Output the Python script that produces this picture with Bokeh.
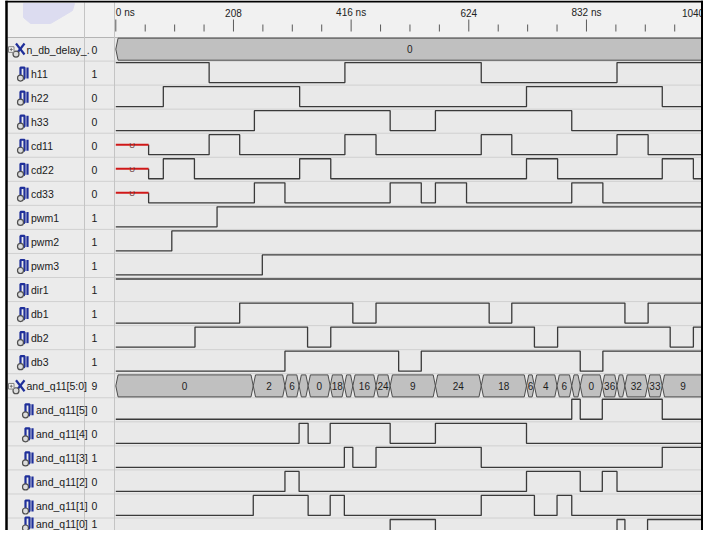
from bokeh.plotting import figure
from bokeh.models import Range1d
from bokeh.embed import file_html
from bokeh.resources import INLINE
from bokeh.core.properties import value

# ---------------- data ----------------
time_ticks = [0, 208, 416, 624, 832, 1040]
time_tick_labels = ["0 ns", "208", "416 ns", "624", "832 ns", "1040"]
minor_tick_step = 52
view_end = 1039

row_names = ["n_db_delay_.", "h11", "h22", "h33", "cd11", "cd22", "cd33",
             "pwm1", "pwm2", "pwm3", "dir1", "db1", "db2", "db3",
             "and_q11[5:0]", "and_q11[5]", "and_q11[4]", "and_q11[3]",
             "and_q11[2]", "and_q11[1]", "and_q11[0]"]
row_kinds = ["bus", "sig", "sig", "sig", "sig", "sig", "sig",
             "sig", "sig", "sig", "sig", "sig", "sig", "sig",
             "bus", "bit", "bit", "bit", "bit", "bit", "bit"]
row_values = ["0", "1", "0", "0", "0", "0", "0", "1", "1", "1", "1", "1", "1", "1",
              "9", "0", "0", "1", "0", "0", "1"]

# binary signals: initial level and toggle times (ns)
h11_init, h11_edges = 1, [165, 405, 646, 886]
h22_init, h22_edges = 0, [84, 325, 726, 966]
h33_init, h33_edges = 0, [245, 485, 565, 806]
undefined_until = 58
cd11_init, cd11_edges = 0, [165, 219, 405, 460, 646, 700, 886, 941]
cd22_init, cd22_edges = 0, [84, 139, 325, 380, 726, 781, 966, 1021]
cd33_init, cd33_edges = 0, [245, 299, 485, 540, 565, 620, 806, 861]
pwm1_init, pwm1_edges = 0, [179]
pwm2_init, pwm2_edges = 0, [99]
pwm3_init, pwm3_edges = 0, [259]
dir1_init, dir1_edges = 1, []
db1_init, db1_edges = 0, [219, 419, 460, 660, 700, 900, 941]
db2_init, db2_edges = 0, [140, 339, 380, 740, 781, 980, 1021]
db3_init, db3_edges = 0, [299, 500, 540, 821, 861]
q5_init, q5_edges = 0, [806, 821, 860, 966]
q4_init, q4_edges = 0, [324, 340, 379, 485, 565, 726]
q3_init, q3_edges = 0, [404, 419, 460, 646, 966]
q2_init, q2_edges = 0, [299, 324, 726, 821, 860, 886]
q1_init, q1_edges = 0, [243, 340, 379, 404, 646, 740, 780, 806]
q0_init, q0_edges = 0, [485, 565, 886, 900, 940]

# buses: segment start times and values
delay_times = [0]
delay_values = ["0"]
andq_times = [0, 243, 299, 324, 340, 379, 404, 419, 460, 485, 565, 646, 726, 740,
              780, 806, 821, 860, 886, 900, 940, 966]
andq_values = ["0", "2", "6", "18", "0", "18", "24", "16", "24", "9", "24", "18", "6", "4",
               "6", "36", "0", "36", "33", "32", "33", "9"]

# ---------------- layout ----------------
W, H = 703, 530
ROW_H = 24.05
T0_PX = 123.3            # window x of 0 ns
S = 0.5657               # px per ns
X_LEFT, X_RIGHT = 8, 8 + W
HDR_BOTTOM = 45


def ry(sy):
    return (sy - HDR_BOTTOM) / ROW_H


p = figure(width=W, height=H, output_backend="svg", toolbar_location=None,
           x_range=Range1d((X_LEFT - T0_PX) / S, (X_RIGHT - T0_PX) / S),
           y_range=Range1d(ry(8 + H), ry(8)),
           x_axis_location=None, y_axis_location=None, min_border=0)
p.extra_x_ranges = {"px": Range1d(X_LEFT, X_RIGHT)}
p.grid.visible = False
p.outline_line_color = None
p.background_fill_color = "white"
p.border_fill_color = "white"

FONT = value("Liberation Sans")
n_rows = len(row_names)

# backgrounds
p.quad(left=[15], right=[710], top=[ry(10)], bottom=[ry(45)], color="#f1f1f1", x_range_name="px")
p.quad(left=[15], right=[122], top=[ry(45)], bottom=[ry(560)], color="#ebebeb", x_range_name="px")
p.quad(left=[122], right=[710], top=[ry(45)], bottom=[ry(560)], color="#e9e9e9", x_range_name="px")
blob_x = [31, 82, 80, 70, 58, 38, 31]
blob_y = [ry(v) for v in [11, 11, 18, 24, 31, 31, 25]]
p.patch(blob_x, blob_y, color="#dcdcf0", x_range_name="px")

# separators
sep_y = [i + 1 - 0.02 for i in range(n_rows)]
p.segment(x0=[15] * n_rows, x1=[710] * n_rows, y0=sep_y, y1=sep_y,
          line_color="#d0d0d0", line_width=1, x_range_name="px")
p.segment(x0=[15], x1=[710], y0=[ry(45)], y1=[ry(45)], line_color="#b4b4b4", x_range_name="px")
p.segment(x0=[92, 122], x1=[92, 122], y0=[ry(10)] * 2, y1=[ry(560)] * 2,
          line_color="#c4c4c4", x_range_name="px")

# header ticks and labels
minor = [t for t in range(0, 1040, minor_tick_step) if t not in time_ticks]
p.segment(x0=minor, x1=minor, y0=[ry(32)] * len(minor), y1=[ry(39)] * len(minor),
          line_color="#5a5a5a", line_width=1)
p.segment(x0=time_ticks, x1=time_ticks, y0=[ry(27)] * len(time_ticks), y1=[ry(39)] * len(time_ticks),
          line_color="#5a5a5a", line_width=1)
aligns = ["left"] + ["center"] * (len(time_ticks) - 2) + ["right"]
p.text(x=time_ticks, y=[ry(20)] * len(time_ticks), text=time_tick_labels,
       text_align=aligns, text_baseline="middle", text_font=FONT,
       text_font_size="10px", text_color="#222222")

# ---------------- waveforms ----------------
HI = 1.0 / ROW_H
LO = 21.0 / ROW_H
MID = (HI + LO) / 2


def step(row, init, edges, start=0):
    xs = [start]
    ys = [row + (HI if init else LO)]
    lvl = init
    for e in edges:
        xs += [e, e]
        ys += [row + (HI if lvl else LO), row + (LO if lvl else HI)]
        lvl = 1 - lvl
    xs.append(view_end + 20)
    ys.append(row + (HI if lvl else LO))
    return xs, ys


binary_rows = [
    (1, h11_init, h11_edges, False), (2, h22_init, h22_edges, False), (3, h33_init, h33_edges, False),
    (4, cd11_init, cd11_edges, True), (5, cd22_init, cd22_edges, True), (6, cd33_init, cd33_edges, True),
    (7, pwm1_init, pwm1_edges, False), (8, pwm2_init, pwm2_edges, False), (9, pwm3_init, pwm3_edges, False),
    (10, dir1_init, dir1_edges, False), (11, db1_init, db1_edges, False), (12, db2_init, db2_edges, False),
    (13, db3_init, db3_edges, False),
    (15, q5_init, q5_edges, False), (16, q4_init, q4_edges, False), (17, q3_init, q3_edges, False),
    (18, q2_init, q2_edges, False), (19, q1_init, q1_edges, False), (20, q0_init, q0_edges, False),
]
wx, wy = [], []
ux, uy, ut = [], [], []
for row, init, edges, has_u in binary_rows:
    if has_u:
        xs, ys = step(row, init, edges, start=undefined_until)
        xs = [undefined_until] + xs
        ys = [row + MID] + ys
        ux.append([0, undefined_until])
        uy.append([row + MID, row + MID])
        ut.append(row)
    else:
        xs, ys = step(row, init, edges)
    wx.append(xs)
    wy.append(ys)
p.multi_line(wx, wy, line_color="#3a3a3a", line_width=1.3)
p.multi_line(ux, uy, line_color="#d01818", line_width=2)
p.text(x=[undefined_until / 2] * len(ut), y=[r + MID + 0.5 / ROW_H for r in ut], text=["U"] * len(ut),
       text_align="center", text_baseline="middle", text_font=FONT, text_font_size="8px",
       text_color="#6a3a3a")

# buses
BT = 0.7 / ROW_H
BB = 22.7 / ROW_H
BM = (BT + BB) / 2
D = 4.0
bx, by, lx, ly, lt = [], [], [], [], []
for row, times, vals in [(0, delay_times, delay_values), (14, andq_times, andq_values)]:
    for k, (t0, v) in enumerate(zip(times, vals)):
        last = k == len(times) - 1
        t1 = times[k + 1] if not last else view_end + 30
        if last:
            xs = [t0, t0 + D, t1, t1, t0 + D]
            ys = [row + BM, row + BT, row + BT, row + BB, row + BB]
        else:
            xs = [t0, t0 + D, t1 - D, t1, t1 - D, t0 + D]
            ys = [row + BM, row + BT, row + BT, row + BM, row + BB, row + BB]
        bx.append(xs)
        by.append(ys)
        vis_end = min(t1, view_end)
        if (vis_end - t0) * S >= 4.6 * len(v) + 3:
            lx.append((t0 + vis_end) / 2)
            ly.append(row + BM)
            lt.append(v)
p.patches(bx, by, fill_color="#c0c0c0", line_color="#4e4e4e", line_width=1)
p.text(x=lx, y=ly, text=lt, text_align="center", text_baseline="middle",
       text_font=FONT, text_font_size="10px", text_color="#1e1e1e")

# ---------------- name / value panel ----------------
name_x = {"bus": 34, "sig": 38.5, "bit": 43.5}
icon_x = {"bus": 27.5, "sig": 32, "bit": 37}
fig_bottom_row = ry(8 + H - 7)
nx = [name_x[k] for k in row_kinds]
cy = [min(i + 0.5, fig_bottom_row) for i in range(n_rows)]
p.text(x=nx, y=cy, text=row_names, text_align="left", text_baseline="middle",
       text_font=FONT, text_font_size="10.5px", text_color="#1a1a1a", x_range_name="px")
p.text(x=[99] * n_rows, y=cy, text=row_values, text_align="left", text_baseline="middle",
       text_font=FONT, text_font_size="10.5px", text_color="#1a1a1a", x_range_name="px")

ix, iy, rx, ryy = [], [], [], []
u = 1 / ROW_H
for i, k in enumerate(row_kinds):
    c = icon_x[k]
    yc = cy[i]
    if k == "bus":
        ix += [[c - 4, c + 4.5], [c - 4, c + 4.5]]
        iy += [[yc - 6 * u, yc + 5 * u], [yc + 5 * u, yc - 6 * u]]
    else:
        ix += [[c - 4, c - 4, c, c, c + 0.5], [c + 3, c + 3]]
        iy += [[yc + 5 * u, yc - 6 * u, yc - 6 * u, yc + 5 * u, yc + 5 * u],
               [yc - 6 * u, yc + 5 * u]]
    rx.append(c - 4)
    ryy.append(yc + 4.5 * u)
p.multi_line(ix, iy, line_color="#1f2f9a", line_width=2.2, x_range_name="px")
p.scatter(rx, ryy, marker="circle", size=6, fill_color="#dcdcdc", line_color="#505050",
          line_width=1.2, x_range_name="px")

bus_rows = [i for i, k in enumerate(row_kinds) if k == "bus"]
p.quad(left=[16] * len(bus_rows), right=[21.5] * len(bus_rows),
       top=[i + 0.5 - 2.8 * u for i in bus_rows], bottom=[i + 0.5 + 2.8 * u for i in bus_rows],
       fill_color="#f4f4f4", line_color="#808080", x_range_name="px")
p.segment(x0=[17.3] * len(bus_rows), x1=[20.2] * len(bus_rows),
          y0=[i + 0.5 for i in bus_rows], y1=[i + 0.5 for i in bus_rows],
          line_color="#707070", x_range_name="px")
p.segment(x0=[18.75] * len(bus_rows), x1=[18.75] * len(bus_rows),
          y0=[i + 0.5 - 1.5 * u for i in bus_rows], y1=[i + 0.5 + 1.5 * u for i in bus_rows],
          line_color="#707070", x_range_name="px")

# window frame
p.segment(x0=[14], x1=[14], y0=[ry(8)], y1=[ry(560)], line_color="black", line_width=2.5, x_range_name="px")
p.segment(x0=[13], x1=[712], y0=[ry(9)], y1=[ry(9)], line_color="black", line_width=2, x_range_name="px")
p.segment(x0=[710], x1=[710], y0=[ry(8)], y1=[ry(560)], line_color="black", line_width=3, x_range_name="px")

open("out.html", "w").write(file_html(p, INLINE))
